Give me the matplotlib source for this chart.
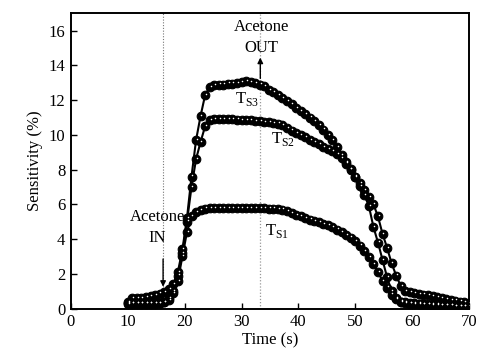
import numpy as np
import matplotlib
matplotlib.use("Agg")
import matplotlib.pyplot as plt
from matplotlib.transforms import offset_copy

plt.rcParams["font.family"] = ["Liberation Serif", "DejaVu Serif"]
plt.rcParams["mathtext.fontset"] = "custom"
plt.rcParams["mathtext.rm"] = "Liberation Serif"

# sampling grid: 0.8 s from 10 s to 70 s
T_START = 10.0
T_STEP = 0.8
N_PTS = 76

ts3 = [0.35, 0.6, 0.6, 0.62, 0.66, 0.7, 0.78, 0.86, 0.95, 1.1,
       1.4, 2.1, 3.4, 5.2, 7.6, 9.7, 11.1, 12.3, 12.75, 12.85,
       12.9, 12.9, 12.95, 12.95, 13.0, 13.05, 13.1, 13.05, 13.0, 12.9,
       12.8, 12.6, 12.45, 12.3, 12.1, 11.95, 11.75, 11.55, 11.35, 11.2,
       11.0, 10.8, 10.55, 10.3, 10.0, 9.7, 9.3, 8.85, 8.45, 8.05,
       7.6, 7.2, 6.8, 6.4, 6.0, 5.3, 4.3, 3.5, 2.6, 1.9,
       1.3, 1.0, 0.95, 0.9, 0.85, 0.8, 0.75, 0.7, 0.65, 0.6,
       0.55, 0.5, 0.45, 0.4, 0.35, 0.3]

ts2 = [0.25, 0.28, 0.28, 0.28, 0.28, 0.28, 0.28, 0.3, 0.35, 0.6,
       1.0, 1.9, 3.2, 5.0, 7.0, 8.6, 9.6, 10.5, 10.85, 10.9,
       10.9, 10.9, 10.9, 10.9, 10.88, 10.87, 10.85, 10.83, 10.8, 10.78,
       10.75, 10.72, 10.7, 10.65, 10.55, 10.4, 10.25, 10.1, 9.98, 9.85,
       9.7, 9.58, 9.45, 9.3, 9.2, 9.05, 8.9, 8.65, 8.35, 8.0,
       7.55, 7.05, 6.55, 5.9, 4.7, 3.8, 2.8, 1.8, 1.0, 0.6,
       0.4, 0.35, 0.32, 0.3, 0.28, 0.26, 0.25, 0.24, 0.22, 0.2,
       0.19, 0.18, 0.16, 0.15, 0.14, 0.12]

ts1 = [0.3, 0.3, 0.3, 0.3, 0.3, 0.3, 0.3, 0.32, 0.38, 0.5,
       0.9, 1.6, 3.0, 4.4, 5.3, 5.55, 5.68, 5.75, 5.78, 5.8,
       5.8, 5.8, 5.8, 5.8, 5.8, 5.8, 5.8, 5.8, 5.78, 5.78,
       5.77, 5.75, 5.75, 5.72, 5.7, 5.62, 5.5, 5.4, 5.3, 5.2,
       5.12, 5.04, 4.97, 4.88, 4.8, 4.68, 4.55, 4.4, 4.25, 4.08,
       3.88, 3.62, 3.3, 2.95, 2.55, 2.1, 1.6, 1.2, 0.8, 0.52,
       0.38, 0.3, 0.28, 0.26, 0.25, 0.24, 0.22, 0.21, 0.2, 0.19,
       0.18, 0.17, 0.16, 0.15, 0.14, 0.13]

T_IN = 16.2
T_OUT = 33.3


def plot_ball_series(ax, fig, t, y):
    ax.plot(t, y, "-", color="black", lw=1.5, marker="o", ms=6.2,
            mfc="black", mec="black", mew=0.8, zorder=3)
    # small white highlight to imitate the shaded balls
    hl = offset_copy(ax.transData, fig=fig, x=0.8, y=1.2, units="dots")
    ax.plot(t, y, "o", ms=1.1, mfc="white", mec="none", transform=hl, zorder=4)


def main():
    t = T_START + T_STEP * np.arange(N_PTS)

    fig = plt.figure(figsize=(5.01, 3.56), dpi=100)
    ax = fig.add_axes([0.1417, 0.1334, 0.7943, 0.8292])

    ax.axvline(T_IN, color="#777777", ls=(0, (1, 1.5)), lw=0.8, zorder=1)
    ax.axvline(T_OUT, color="#999999", ls=(0, (1, 1.5)), lw=0.9, zorder=1)

    for ys in (ts1, ts2, ts3):
        plot_ball_series(ax, fig, t, ys)

    ax.set_xlim(0, 70)
    ax.set_ylim(0, 17)
    ax.set_xticks(range(0, 71, 10))
    ax.set_yticks(range(0, 17, 2))
    ax.tick_params(direction="in", length=4, width=1, labelsize=12, pad=4)
    for sp in ax.spines.values():
        sp.set_linewidth(1.4)

    ax.set_xlabel("Time (s)", fontsize=12, labelpad=2)
    ax.set_ylabel("Sensitivity (%)", fontsize=12, labelpad=4)

    # acetone in / out markers
    ax.text(15.2, 5.26, "Acetone", ha="center", va="center", fontsize=12)
    ax.text(15.2, 4.05, "IN", ha="center", va="center", fontsize=12)
    ax.annotate("", xy=(T_IN, 1.25), xytext=(T_IN, 2.85),
                arrowprops=dict(arrowstyle="-|>", color="black", lw=1.0,
                                mutation_scale=8, shrinkA=0, shrinkB=0))
    ax.text(33.45, 16.2, "Acetone", ha="center", va="center", fontsize=12)
    ax.text(33.45, 15.0, "OUT", ha="center", va="center", fontsize=12)
    ax.annotate("", xy=(T_OUT, 14.45), xytext=(T_OUT, 13.25),
                arrowprops=dict(arrowstyle="-|>", color="black", lw=1.0,
                                mutation_scale=8, shrinkA=0, shrinkB=0))

    ax.text(28.8, 11.85, r"$\mathrm{T}_{\mathrm{S3}}$", fontsize=12, va="baseline")
    ax.text(35.2, 9.55, r"$\mathrm{T}_{\mathrm{S2}}$", fontsize=12, va="baseline")
    ax.text(34.2, 4.25, r"$\mathrm{T}_{\mathrm{S1}}$", fontsize=12, va="baseline")

    fig.savefig("out.png", dpi=100)


if __name__ == "__main__":
    main()
